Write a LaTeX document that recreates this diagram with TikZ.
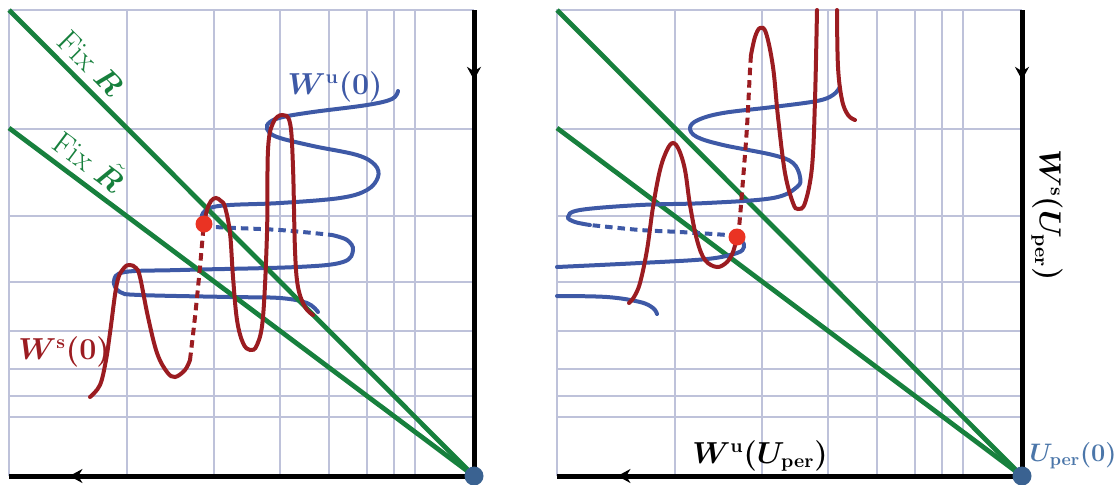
\documentclass[tikz,border=0pt]{standalone}
\usepackage{amsmath, bm}
\usepackage{xcolor}
\usetikzlibrary{arrows.meta, decorations.markings}
\definecolor{gridc}{HTML}{BEC2DA}
\definecolor{fixc}{HTML}{17803D}
\definecolor{unstc}{HTML}{3E59A6}
\definecolor{stabc}{HTML}{9B1C21}
\definecolor{homc}{HTML}{EA3323}
\definecolor{perc}{HTML}{3A6291}
\definecolor{perlab}{HTML}{4B76A9}

\begin{document}
\begin{tikzpicture}[
    x=0.02cm, y=-0.02cm,
    gridln/.style={draw=gridc, line width=0.045cm},
    axis/.style={
      draw=black, line width=0.1cm, postaction={decorate},
      decoration={markings, mark=at position #1 with
        {\arrow{Stealth[length=0.26cm, width=0.28cm]}}}},
    fixln/.style={draw=fixc, line width=0.095cm},
    fixlab/.style={font=\fontsize{18}{21}\selectfont, text=fixc,
      sloped, above=3pt, inner sep=1pt},
    wu/.style={draw=unstc, line width=0.08cm, line cap=round},
    ws/.style={draw=stabc, line width=0.08cm, line cap=round},
    gap/.style={dash pattern=on 0.15cm off 0.1cm, line cap=butt},
    hdot/.style={circle, fill=homc, inner sep=0pt, minimum size=0.34cm},
    pdot/.style={circle, fill=perc, inner sep=0pt, minimum size=0.38cm},
    lab/.style={font=\fontsize{16}{19}\selectfont\boldmath, inner sep=1pt},
  ]
  \useasboundingbox (0,0) rectangle (1119,484);

  % ── Corners of both panels ──
  \coordinate (oL) at (474,476);  \coordinate (oR) at (1022,476);
  \coordinate (nL) at (474,10);   \coordinate (nR) at (1022,10);
  \coordinate (wL) at (9,476);    \coordinate (wR) at (557,476);
  \coordinate (cL) at (9,10);     \coordinate (cR) at (557,10);
  \coordinate (fL) at (9,128);    \coordinate (fR) at (557,128);

  % ── Grids ──
  \foreach \c/\l in {474/9, 1022/557} {
    \foreach \d in {347,260,194,145,107,80,59} {
      \draw[gridln] (\c-\d,10) -- (\c-\d,476);
      \draw[gridln] (\l,476-\d) -- (\c,476-\d);
    }
    \draw[gridln] (\l,476) -- (\l,10) -- (\c,10);
  }

  % ── Manifolds of the corner ──
  \draw[axis=0.15] (nL) -- (oL);
  \draw[axis=0.87] (oL) -- (wL);
  \draw[axis=0.15] (nR) -- (oR);
  \draw[axis=0.87] (oR) -- (wR);

  % ── Left panel: W^u(0) ──
  \draw[wu] plot[smooth, tension=0.6] coordinates {
    (398,91) (392,99) (367,105) (313,112) (283,117) (270,122) (267,129)
    (277,137) (313,146) (357,155) (375,165) (378,177) (367,190) (340,198)
    (280,203) (230,205) (210,208) (202,215) (204,224)};
  \draw[wu, gap] plot[smooth] coordinates {
    (204,224) (215,227) (280,230) (332,235)};
  \draw[wu] plot[smooth, tension=0.6] coordinates {
    (332,235) (347,240) (353,250) (343,262) (297,267) (180,270) (125,272)
    (114,281) (120,292) (140,295) (230,297) (280,298) (307,303) (318,312)};

  % ── Fixed lines ──
  \draw[fixln] (cL) -- (oL) node[fixlab, pos=0.145] {Fix $\bm{R}$};
  \draw[fixln] (fL) -- (oL) node[fixlab, pos=0.145] {Fix $\tilde{\bm{R}}$};
  \draw[fixln] (cR) -- (oR);
  \draw[fixln] (fR) -- (oR);

  % ── Left panel: W^s(0) ──
  \draw[ws] plot[smooth, tension=0.6] coordinates {
    (90,397) (100,385) (106,360) (110,333) (117,283) (124,268) (130,265)
    (136,268) (140,277) (148,317) (157,353) (167,372) (175,377) (185,370)
    (190,360)};
  \draw[ws, gap] plot[smooth] coordinates {
    (190,360) (195,317) (200,267) (203,233) (204,224)};
  \draw[ws] plot[smooth, tension=0.6] coordinates {
    (204,224) (207,210) (211,201) (216,198) (221,201) (225,207) (230,233)
    (233,277) (237,320) (243,343) (250,350) (257,345) (263,317) (267,233)
    (268,150) (273,123) (282,115) (290,123) (293,167) (295,250) (298,287)
    (305,307) (313,315)};

  % ── Right panel: W^u(U_per) ──
  \draw[wu] plot[smooth, tension=0.6] coordinates {
    (557,296) (607,297) (640,302) (653,308) (657,314)};
  \draw[wu] plot[smooth, tension=0.6] coordinates {
    (557,267) (640,263) (707,259) (737,253) (744,247) (742,241) (737,237)};
  \draw[wu, gap] plot[smooth] coordinates {
    (737,237) (727,235) (680,232) (640,230) (590,225)};
  \draw[wu] plot[smooth, tension=0.6] coordinates {
    (590,225) (575,222) (568,217) (580,210) (640,205) (707,203) (773,198)
    (797,187) (800,177) (793,163) (773,155) (723,145) (697,137) (690,128)
    (698,120) (723,113) (773,107) (817,101) (833,95) (840,87)};

  % ── Right panel: W^s(U_per) ──
  \draw[ws] plot[smooth, tension=0.6] coordinates {
    (629,303) (634,297) (640,283) (647,250) (653,207) (660,170) (667,150)
    (673,143) (679,150) (685,170) (690,205) (697,240) (705,260) (717,267)
    (727,262) (733,252) (737,237)};
  \draw[ws, gap] plot[smooth] coordinates {
    (737,237) (739,228) (743,180) (747,127) (750,70) (751,55)};
  \draw[ws] plot[smooth, tension=0.6] coordinates {
    (751,55) (755,37) (760,28) (766,33) (773,67) (778,117) (785,173)
    (793,203) (798,209) (805,203) (812,167) (815,100) (817,10)};
  \draw[ws] plot[smooth, tension=0.6] coordinates {
    (837,10) (838,67) (842,100) (848,115) (855,120)};

  % ── Points ──
  \node[hdot] (hL) at (204,224) {};
  \node[hdot] (hR) at (737,237) {};
  \node[pdot] (pL) at (oL) {};
  \node[pdot] (pR) at (oR) {};

  % ── Labels ──
  \node[lab, text=unstc] (wuL) at (335,87) {$W^{\mathbf{u}}(0)$};
  \node[lab, text=stabc] (wsL) at (64,352) {$W^{\mathbf{s}}(0)$};
  \node[lab] (wuR) at (760,456) {$W^{\mathbf{u}}(U_{\mathbf{per}})$};
  \node[lab, rotate=-90] (wsR) at (1047,215) {$W^{\mathbf{s}}(U_{\mathbf{per}})$};
  \node[lab, font=\fontsize{14}{17}\selectfont\boldmath, text=perlab]
    (uper) at (1073,456) {$U_{\mathbf{per}}(0)$};

\end{tikzpicture}
\end{document}
